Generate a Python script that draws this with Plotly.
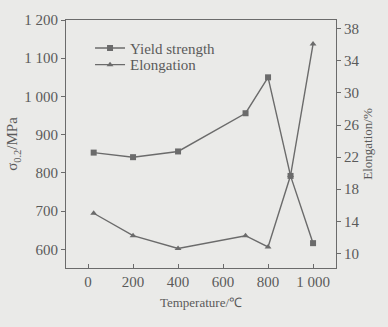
import plotly.graph_objects as go

# Test temperatures (°C)
temperature = [25, 200, 400, 700, 800, 900, 1000]

# Yield strength sigma_0.2 (MPa)
yield_strength = [853, 841, 856, 956, 1050, 792, 616]

# Elongation (%)
elongation = [15.0, 12.2, 10.6, 12.2, 10.8, 19.7, 36.1]

# Tick labels
x_ticks = [0, 200, 400, 600, 800, 1000]
x_ticktext = ["0", "200", "400", "600", "800", "1 000"]
y1_ticks = [600, 700, 800, 900, 1000, 1100, 1200]
y1_ticktext = ["600", "700", "800", "900", "1 000", "1 100", "1 200"]
y2_ticks = [10, 14, 18, 22, 26, 30, 34, 38]

bg = "#eaeae8"
ink = "#6b6b6b"
text_col = "#5a5a5a"
font_family = "Liberation Serif, Times New Roman, serif"

fig = go.Figure()

fig.add_trace(go.Scatter(
    x=temperature, y=yield_strength, name="Yield strength",
    mode="lines+markers",
    line=dict(color=ink, width=1.4),
    marker=dict(symbol="square", size=6, color=ink),
    yaxis="y", legend="legend",
))

fig.add_trace(go.Scatter(
    x=temperature, y=elongation, name="Elongation",
    mode="lines+markers",
    line=dict(color=ink, width=1.4),
    marker=dict(symbol="triangle-up", size=6, color=ink),
    yaxis="y2", legend="legend2",
))

axis_common = dict(
    showgrid=False, zeroline=False, showline=True,
    linecolor=ink, linewidth=1.2,
    tickcolor=ink, ticklen=4, tickwidth=1,
    tickfont=dict(family=font_family, size=15, color=text_col),
)

legend_common = dict(
    xanchor="left", yanchor="middle",
    bgcolor="rgba(0,0,0,0)",
    font=dict(family=font_family, size=15, color=text_col),
    itemwidth=30,
)

fig.update_layout(
    width=388, height=327,
    margin=dict(l=66, r=52, t=14, b=59),
    paper_bgcolor=bg, plot_bgcolor=bg,
    font=dict(family=font_family, color=text_col),
    showlegend=True,
    legend=dict(x=0.089, y=0.886, **legend_common),
    legend2=dict(x=0.089, y=0.819, **legend_common),
    xaxis=dict(
        range=[-98, 1102],
        tickvals=x_ticks, ticktext=x_ticktext,
        ticks="inside", mirror=True,
        title=dict(text="Temperature/℃", standoff=8,
                   font=dict(family=font_family, size=13, color=text_col)),
        **axis_common,
    ),
    yaxis=dict(
        range=[551, 1200],
        tickvals=y1_ticks, ticktext=y1_ticktext,
        ticks="outside",
        title=dict(text="σ<sub>0.2</sub>/MPa", standoff=2,
                   font=dict(family=font_family, size=15, color=text_col)),
        **axis_common,
    ),
    yaxis2=dict(
        range=[8.17, 39.1],
        tickvals=y2_ticks,
        ticks="outside",
        overlaying="y", side="right",
        title=dict(text="Elongation/%", standoff=4,
                   font=dict(family=font_family, size=13, color=text_col)),
        **axis_common,
    ),
)

fig.write_html("out.html")
